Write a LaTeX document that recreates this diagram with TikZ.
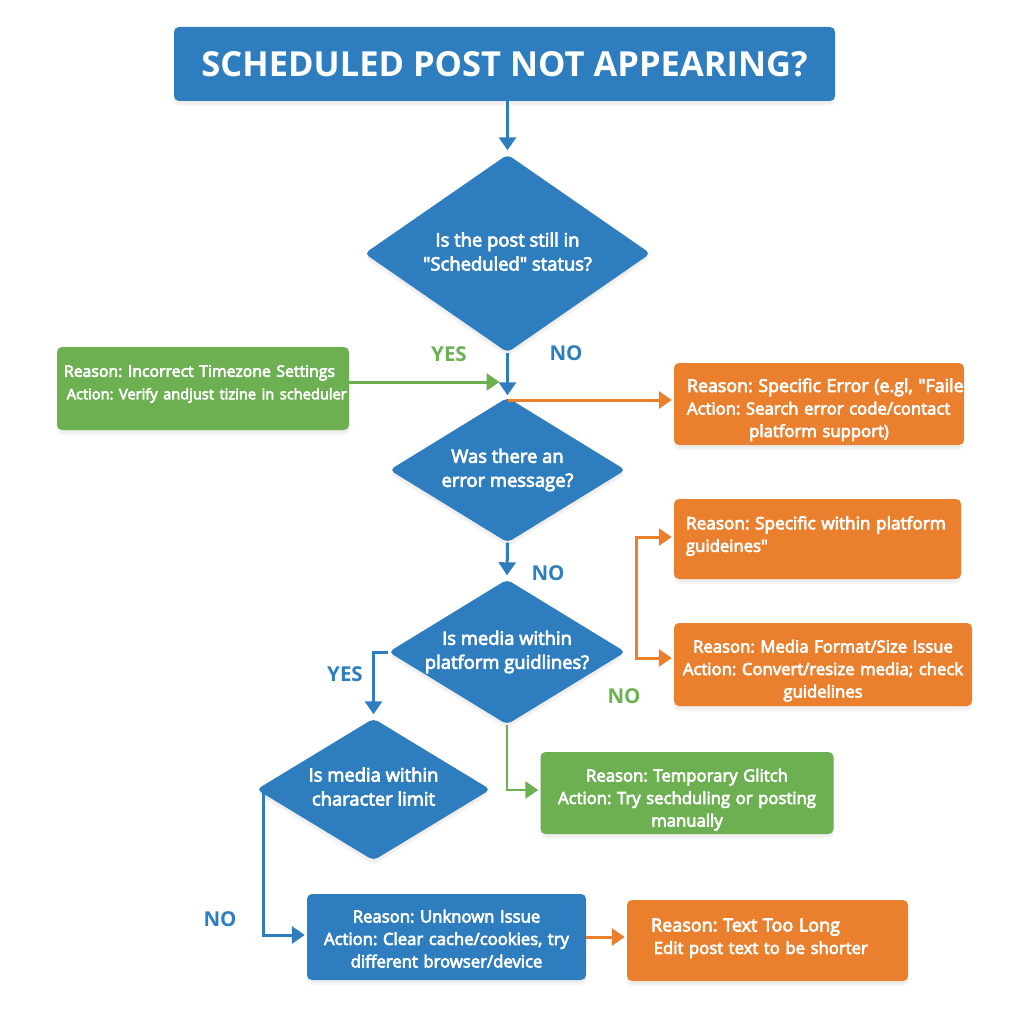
\documentclass[tikz,border=0pt]{standalone}
\usepackage{fontspec}
\setmainfont{Open Sans}[Ligatures=TeXOff,FakeBold=4]
\newfontfamily\headfont{Open Sans}[Ligatures=TeXOff,BoldFont={* Bold}]
\usetikzlibrary{shapes.geometric,arrows.meta,shadows,calc}
\definecolor{cblue}{HTML}{2E7EBF}
\definecolor{cgreen}{HTML}{6CB052}
\definecolor{corange}{HTML}{EA7F2E}
\tikzset{
  soft/.style={drop shadow={opacity=.07,shadow xshift=0pt,shadow yshift=-5pt},drop shadow={opacity=.07,shadow xshift=0pt,shadow yshift=-3pt}},
  box/.style={rectangle,rounded corners=5pt,soft,text=white,inner ysep=0pt,font=\frenchspacing\fontsize{16.7}{22.5}\selectfont},
  ask/.style={diamond,aspect=1.44,rounded corners=5pt,soft,fill=cblue,text=white,inner sep=-16pt,align=center,font=\frenchspacing\fontsize{18.4}{24}\selectfont},
  conn/.style={line width=3pt,-{Triangle[length=13pt,width=17pt]}},
  tag/.style={font=\headfont\bfseries\fontsize{20.5}{24}\selectfont,inner sep=0pt},
}
\newcommand{\ctr}[1]{\makebox[\linewidth][c]{#1}}
\newcommand{\topx}[1]{\rule{0pt}{#1}}
\newcommand{\fs}[1]{\fontsize{#1}{22.5}\selectfont}
\begin{document}
\begin{tikzpicture}[x=1pt,y=-1pt]
\useasboundingbox (0,0) rectangle (1024,1024);
% title
\node[box,fill=cblue,minimum width=661pt,minimum height=74pt,font=\headfont\bfseries\frenchspacing\fontsize{34.5}{36}\selectfont] (title) at (504.5,64) {SCHEDULED POST NOT APPEARING?};
% decisions
\node[ask,minimum width=286pt,minimum height=198pt] (d1) at (507.5,253.5) {Is the post still in\\"Scheduled" status?\\[-20pt]\mbox{}};
\node[ask,minimum width=236pt,minimum height=145pt] (d2) at (507.5,470) {Was there an\\error message?};
\node[ask,minimum width=237pt,minimum height=145pt] (d3) at (507,652) {Is media within\\platform guidlines?};
\node[ask,minimum width=234pt,minimum height=142pt] (d4) at (373.5,789.5) {Is media within\\character limit\\[-18pt]\mbox{}};
% outcomes
\node[box,fill=cgreen,minimum width=292pt,minimum height=83pt,text width=278pt,inner xsep=7pt,align=left] (g1) at (203,388.5)
  {\mbox{\fs{15.8}Reason: Incorrect Timezone Settings}\\\mbox{\,\fs{14.6}Action: Verify andjust tizine in scheduler}\\[-10pt]\mbox{}};
\node[box,fill=corange,minimum width=290pt,minimum height=82pt,text width=264pt,inner xsep=13pt,align=left] (o1) at (819,404)
  {\mbox{\topx{25pt}\fs{17.8}Reason: Specific Error (e.gl, "Failed}\\\mbox{Action: Search error code/contact}\\\ctr{platform support)}};
\node[box,fill=corange,minimum width=287pt,minimum height=80pt,text width=263pt,inner xsep=12pt,align=left] (o2) at (817.5,539)
  {\mbox{\fs{17.2}Reason: Specific within platform}\\guideines"\\[-12.5pt]\mbox{}};
\node[box,fill=corange,minimum width=298pt,minimum height=83pt,text width=292pt,inner xsep=3pt,align=center] (o3) at (823,664.5)
  {\topx{25pt}Reason: Media Format/Size Issue\\Action: Convert/resize media; check\\guidelines};
\node[box,fill=cgreen,minimum width=293pt,minimum height=82pt,text width=280pt,inner xsep=6.5pt,align=center] (g2) at (687,793)
  {\topx{26pt}Reason: Temporary Glitch\\Action: Try sechduling or posting\\manually};
\node[box,fill=cblue,minimum width=279pt,minimum height=86pt,text width=270pt,inner xsep=4.5pt,align=center] (b1) at (446.5,937)
  {\topx{16pt}Reason: Unknown Issue\\Action: Clear cache/cookies, try\\different browser/device};
\node[box,fill=corange,minimum width=281pt,minimum height=81pt,text width=233pt,inner xsep=24pt,align=left] (o4) at (767.5,940.5)
  {\mbox{\fs{18}Reason: Text Too Long}\\\mbox{\,Edit post text to be shorter}\\[-14pt]\mbox{}};
% free ends
\coordinate (mid) at (507.5,382);
\coordinate (top2) at (507.5,400);
% connectors
\draw[conn,draw=cblue,cblue] (title.south -| d1.north) -- ($(d1.north)+(0,-4)$);
\draw[conn,draw=cblue,cblue] (d1.south) -- ($(d2.north)+(0,-2)$);
\draw[conn,draw=cgreen,cgreen] (g1.east |- mid) -- ($(mid)+(-8,0)$);
\draw[conn,draw=corange,corange] (top2) -- ($(o1.west |- top2)+(-2,0)$);
\draw[conn,draw=cblue,cblue] (d2.south) -- ($(d3.north)+(0,-4)$);
\draw[conn,draw=cblue,cblue] (d3.west) -- (373.5,652) -- ($(d4.north)+(0,-4)$);
\draw[conn,draw=corange,corange,{Triangle[length=13pt,width=17pt]}-{Triangle[length=13pt,width=17pt]}] ($(o2.west)+(-2,-2)$) -- (636,537) -- (636,658) -- ($(o3.west)+(-2,-6.5)$);
\draw[conn,draw=cgreen,cgreen,line width=2.5pt] (d3.south) -- (507,790) -- ($(g2.west)+(-2,-3)$);
\draw[conn,draw=cblue,cblue] (263,790) -- (263,935) -- ($(b1.west)+(-2,-2)$);
\draw[conn,draw=corange,corange] (b1.east) -- ($(o4.west)+(-2,-3.5)$);
% labels
\node[tag,text=cgreen] (yes1) at (449,354) {YES};
\node[tag,text=cblue] (no1) at (566,353) {NO};
\node[tag,text=cblue] (no2) at (548,573) {NO};
\node[tag,text=cblue] (yes2) at (345,674) {YES};
\node[tag,text=cgreen] (no3) at (624,696) {NO};
\node[tag,text=cblue] (no4) at (220,919) {NO};
\end{tikzpicture}
\end{document}
